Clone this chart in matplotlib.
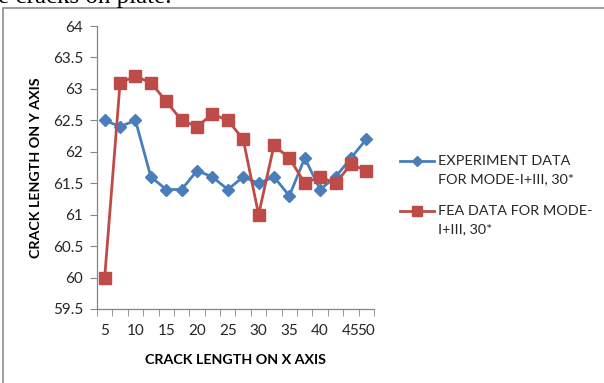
import matplotlib
matplotlib.use("Agg")
import matplotlib.pyplot as plt
from matplotlib.patches import Rectangle
from matplotlib.lines import Line2D
from matplotlib.ticker import FixedLocator, MultipleLocator, FuncFormatter

# category labels (Excel category axis, blanks between)
categories = ['5', '', '10', '', '15', '', '20', '', '25', '', '30', '', '35', '', '40', '', '45', '50']

experiment = [62.5, 62.4, 62.5, 61.6, 61.4, 61.4, 61.7, 61.6, 61.4, 61.6,
              61.5, 61.6, 61.3, 61.9, 61.4, 61.6, 61.9, 62.2]
fea = [60.0, 63.1, 63.2, 63.1, 62.8, 62.5, 62.4, 62.6, 62.5, 62.2,
       61.0, 62.1, 61.9, 61.5, 61.6, 61.5, 61.8, 61.7]

series_names = ['EXPERIMENT DATA\nFOR MODE-I+III, 30*', 'FEA DATA FOR MODE-\nI+III, 30*']

blue = '#4a7ebb'
red = '#be4b48'
axis_gray = '#868686'
font = 'Lato'
W, H = 604, 383

fig = plt.figure(figsize=(W / 100, H / 100), dpi=100)

# chart border (only left and top visible in the crop)
fig.patches.append(Rectangle((3 / W, -0.1), 1.2, 1 - 8 / H + 0.1,
                             transform=fig.transFigure, fill=False,
                             edgecolor='#8c8c8c', linewidth=1.2))
# bit of document text above the chart
fig.text(-0.003, 1 - 3 / H, 'e cracks on plate.', family='Liberation Serif',
         fontsize=18, va='baseline', ha='left')

ax = fig.add_axes([97 / W, 1 - 309 / H, 277 / W, 283 / H])
x = list(range(len(categories)))

ax.plot(x, experiment, color=blue, lw=2.0, marker='D', markersize=6.5,
        markeredgecolor=blue, zorder=3)
ax.plot(x, fea, color=red, lw=2.0, marker='s', markersize=9,
        markeredgecolor=red, zorder=4)

ax.set_xlim(-0.5, len(categories) - 0.5)
ax.set_ylim(59.5, 64)

for s in ['top', 'right']:
    ax.spines[s].set_visible(False)
for s in ['left', 'bottom']:
    ax.spines[s].set_color(axis_gray)
    ax.spines[s].set_linewidth(0.9)

ax.yaxis.set_major_locator(MultipleLocator(0.5))
ax.yaxis.set_major_formatter(FuncFormatter(lambda v, p: ('%g' % v)))
ax.tick_params(axis='y', direction='out', length=5, color=axis_gray,
               labelsize=11, pad=5)

ax.xaxis.set_major_locator(FixedLocator(x))
ax.set_xticklabels(categories)
ax.xaxis.set_minor_locator(FixedLocator([i - 0.5 for i in range(len(categories) + 1)]))
ax.tick_params(axis='x', which='major', length=0, labelsize=11, pad=11)
ax.tick_params(axis='x', which='minor', direction='out', length=5, color=axis_gray)

for lab in ax.get_xticklabels() + ax.get_yticklabels():
    lab.set_family(font)
    lab.set_color('#262626')

ax.set_xlabel('CRACK LENGTH ON X AXIS', family=font, fontweight='bold',
              fontsize=10.3, labelpad=11)
ax.set_ylabel('CRACK LENGTH ON Y AXIS', family=font, fontweight='bold',
              fontsize=10.3, labelpad=8)

# legend like Excel: marker sits on the first line of a wrapped label
legend_rows = [(161, blue, 'D', 6.5), (211, red, 's', 9)]
for (yp, col, mk, ms), name in zip(legend_rows, series_names):
    yf = 1 - yp / H
    fig.add_artist(Line2D([400 / W, 417 / W, 434 / W], [yf, yf, yf],
                          transform=fig.transFigure, color=col, lw=2.0,
                          marker=mk, markersize=ms * 0.8, markevery=[1],
                          markeredgecolor=col))
    fig.text(438 / W, 1 - (yp - 6) / H, name, family=font, fontsize=10.4,
             va='top', ha='left', linespacing=1.58, color='#262626')

fig.savefig('out.png', dpi=100)
